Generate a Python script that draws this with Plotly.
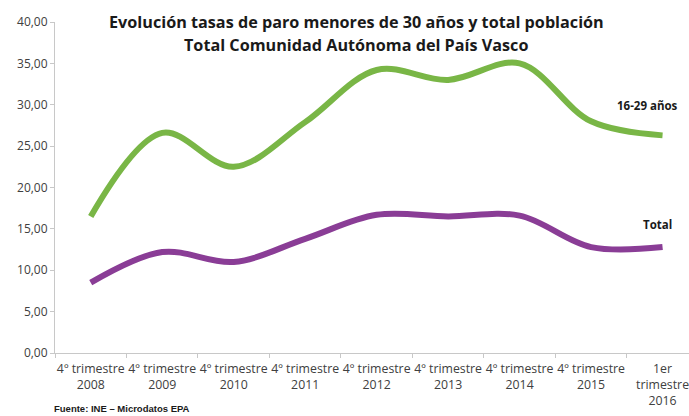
import plotly.graph_objects as go

categories = ["4º trimestre<br>2008", "4º trimestre<br>2009", "4º trimestre<br>2010",
              "4º trimestre<br>2011", "4º trimestre<br>2012", "4º trimestre<br>2013",
              "4º trimestre<br>2014", "4º trimestre<br>2015", "1er<br>trimestre<br>2016"]
jovenes = [16.5, 26.6, 22.5, 27.9, 34.2, 33.0, 35.0, 28.0, 26.3]
total = [8.5, 12.2, 11.0, 13.8, 16.7, 16.5, 16.6, 12.8, 12.8]
y_ticks = [0, 5, 10, 15, 20, 25, 30, 35, 40]

GREEN = "#79b646"
PURPLE = "#8a3d96"
FONT = "Open Sans"

fig = go.Figure()
fig.add_trace(go.Scatter(x=categories, y=jovenes, mode="lines", name="16-29 años",
                         line=dict(color=GREEN, width=6, shape="spline", smoothing=1.0)))
fig.add_trace(go.Scatter(x=categories, y=total, mode="lines", name="Total",
                         line=dict(color=PURPLE, width=6, shape="spline", smoothing=1.0)))

fig.update_layout(
    width=689, height=416,
    margin=dict(l=55, r=0, t=22, b=63),
    paper_bgcolor="white", plot_bgcolor="white",
    showlegend=False,
    separators=",.",
    font=dict(family=FONT, size=11, color="#404040"),
    xaxis=dict(range=[-0.5, 8.37], showgrid=False, showline=True, linecolor="#c8c8c8",
               linewidth=1, ticks="outside", tickson="boundaries", ticklen=4,
               tickcolor="#c8c8c8", tickfont=dict(family=FONT, size=12.3, color="#404040"),
               tickangle=0, ticklabelstandoff=4),
    yaxis=dict(range=[0, 40], tickvals=y_ticks, tickformat=".2f", showgrid=False,
               showline=True, linecolor="#c8c8c8", linewidth=1, ticks="outside",
               ticklen=4, tickcolor="#c8c8c8", zeroline=False,
               tickfont=dict(family=FONT, size=12, color="#404040")),
)

fig.add_annotation(xref="paper", yref="paper", x=(356 - 55) / 634, xanchor="center",
                   y=(353 - 22) / 331, yanchor="middle",
                   text="<b>Evolución tasas de paro menores de 30 años y total población</b>",
                   showarrow=False, font=dict(family=FONT, size=16.2, color="#1a1a1a"))
fig.add_annotation(xref="paper", yref="paper", x=(356 - 55) / 634, xanchor="center",
                   y=(353 - 45) / 331, yanchor="middle",
                   text="<b>Total Comunidad Autónoma del País Vasco</b>",
                   showarrow=False, font=dict(family=FONT, size=16.2, color="#1a1a1a"))
fig.add_annotation(xref="paper", yref="paper", x=(647 - 55) / 634, xanchor="center",
                   y=(353 - 105) / 331, yanchor="middle",
                   text="<b>16-29 años</b>", showarrow=False,
                   font=dict(family=FONT, size=11.5, color="#1a1a1a"))
fig.add_annotation(xref="paper", yref="paper", x=(657 - 55) / 634, xanchor="center",
                   y=(353 - 224) / 331, yanchor="middle",
                   text="<b>Total</b>", showarrow=False,
                   font=dict(family=FONT, size=11.5, color="#1a1a1a"))
fig.add_annotation(xref="paper", yref="paper", x=(52 - 55) / 634, xanchor="left",
                   y=-(408 - 353) / 331, yanchor="middle",
                   text="<b>Fuente: INE – Microdatos EPA</b>", showarrow=False,
                   font=dict(family="Liberation Sans", size=9.5, color="#1a1a1a"))

fig.write_html("out.html")
